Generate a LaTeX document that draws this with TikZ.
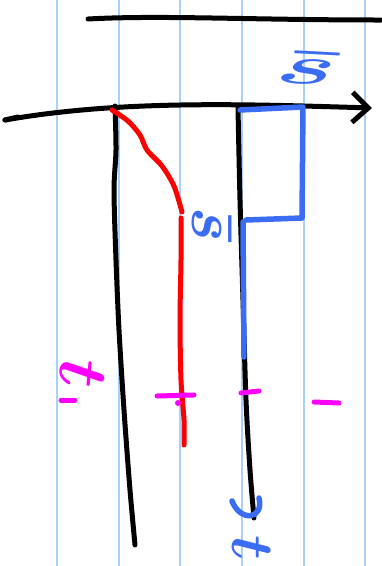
\documentclass[tikz,border=0pt]{standalone}
\usetikzlibrary{arrows.meta,positioning}
\definecolor{inkblue}{HTML}{3A6CF4}
\definecolor{inkred}{HTML}{FF0000}
\definecolor{inkpink}{HTML}{FF00FF}
\definecolor{ruling}{HTML}{A8D0FA}

\begin{document}
\begin{tikzpicture}[x=1pt,y=-1pt,
  rule/.style={ruling, line width=1.5pt},
  ink/.style={line width=5pt, line cap=round, line join=round},
  lbl/.style={inner sep=0pt, font=\boldmath, scale=#1},
  lbl/.default=5
]
  \useasboundingbox[fill=white] (0,0) rectangle (381,566);

  % ruled paper
  \foreach \x in {57,119,180,242,304,365}
    \draw[rule] (\x,0) -- (\x,566);

  % top line
  \draw[ink] (88,19) .. controls (160,15) and (250,20) .. (381,20);

  % axis
  \coordinate (axL) at (5,120);
  \coordinate (axR) at (372,108);
  \draw[ink, -{Straight Barb[length=16pt, width=30pt, line width=5pt]}]
    (axL) .. controls (120,100) and (240,104) .. (axR);
  \draw[ink] (axL) -- (18,117);

  % black walls
  \draw[ink] plot[smooth] coordinates {(115,106) (116,150) (114,190) (116,260) (119,330) (124,410) (130,490) (135,545)};
  \draw[ink] plot[smooth] coordinates {(238,108) (240,200) (243,300) (246,400) (250,470) (254,518)};

  % red curve
  \draw[ink, inkred] plot[smooth] coordinates {(112,110) (128,121) (140,135) (147,150) (162,166) (174,186) (182,212)};
  \draw[ink, inkred] plot[smooth] coordinates {(181,218) (181,260) (180,320) (181,380) (184,420) (184,445)};

  % blue box
  \draw[ink, inkblue, line width=5.5pt] (240,110) -- (303,107) -- (302,218) -- (246,220);
  \draw[ink, inkblue, line width=5.5pt] (243,222) -- (244,357);

  % labels
  \node[lbl=5.5, inkblue, xscale=2, rotate=-6] (sTop) at (307,68) {$\bar{s}$};
  \node[lbl=6.5, inkblue, rotate=-90] (sMid) at (212,225) {$\bar{s}$};
  \node[lbl=6, inkblue, rotate=-90] (tB) at (252,548) {$t$};
  \node[lbl=7, inkpink, rotate=-95] (tL) at (82,374) {$t$};

  % hook at the end of the right wall
  \draw[ink, inkblue, line width=5.5pt] (232,501) .. controls (240,522) and (264,520) .. (259,498);

  % sign marks
  \draw[ink, inkpink, line width=5pt] (61,400) -- (75,400);
  \draw[ink, inkpink, line width=5pt] (157,396) -- (194,395);
  \fill[inkpink] (178,403) circle (3pt);
  \draw[ink, inkpink, line width=5pt] (241,393) -- (259,391);
  \draw[ink, inkpink, line width=5pt] (314,402) -- (339,403);
\end{tikzpicture}
\end{document}
